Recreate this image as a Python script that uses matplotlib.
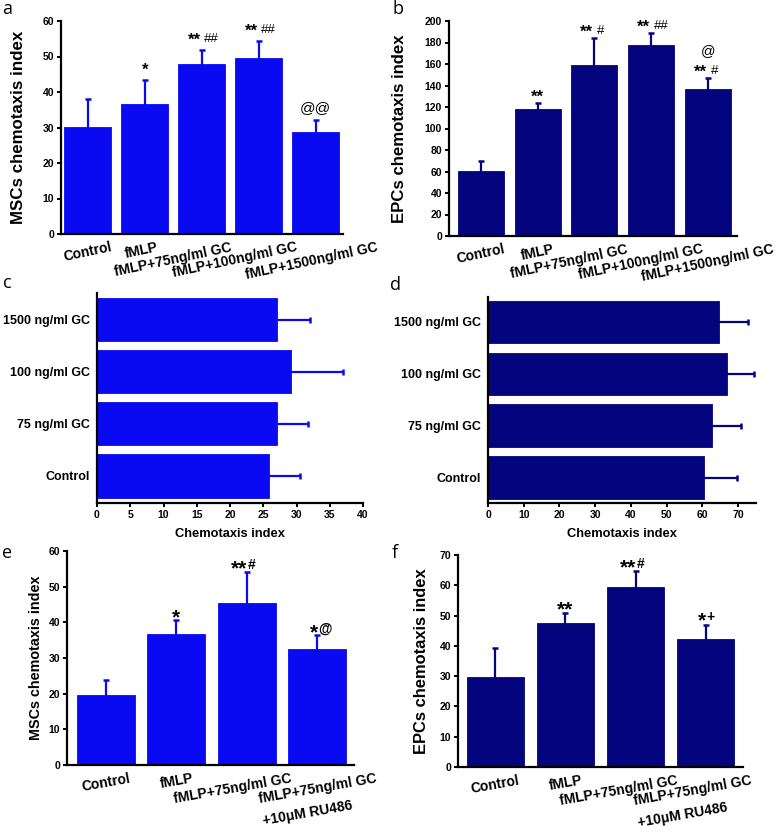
import matplotlib
matplotlib.use("Agg")
import matplotlib.pyplot as plt

plt.rcParams['font.family'] = ['Liberation Sans', 'DejaVu Sans']
plt.rcParams['font.weight'] = 'bold'

BLUE = '#0a0af2'
NAVY = '#04047e'

# ---- data ----
cats_ab = ['Control', 'fMLP', 'fMLP+75ng/ml GC', 'fMLP+100ng/ml GC', 'fMLP+1500ng/ml GC']
a_vals = [30.1, 36.7, 47.8, 49.6, 28.8]
a_err = [7.9, 6.7, 4.1, 4.9, 3.4]
a_marks = ['', '*', '**##', '**##', '@@']

b_vals = [60.7, 118.6, 158.8, 177.7, 136.5]
b_err = [9.3, 5.2, 25.4, 11.2, 10.2]
b_marks = ['', '**', '**#', '**##', '@\n**#']

cats_cd = ['Control', '75 ng/ml GC', '100 ng/ml GC', '1500 ng/ml GC']
c_vals = [25.9, 27.1, 29.1, 27.1]
c_err = [4.7, 4.6, 7.9, 4.9]
d_vals = [60.5, 62.6, 66.8, 64.6]
d_err = [9.2, 8.2, 7.6, 8.2]

cats_ef = ['Control', 'fMLP', 'fMLP+75ng/ml GC', 'fMLP+75ng/ml GC\n+10\u03bcM RU486']
e_vals = [19.5, 36.7, 45.4, 32.5]
e_err = [4.3, 3.9, 8.8, 3.9]
e_marks = ['', '*', '**#', '*@']
f_vals = [29.7, 47.6, 59.5, 42.2]
f_err = [9.5, 3.1, 5.1, 4.8]
f_marks = ['', '**', '**#', '*+']

W, H = 778, 836
fig = plt.figure(figsize=(W / 100, H / 100), dpi=100)


def add_ax(l, t, r, b):
    return fig.add_axes([l / W, 1 - b / H, (r - l) / W, (b - t) / H])


def style(ax):
    for s in ['top', 'right']:
        ax.spines[s].set_visible(False)
    for s in ['left', 'bottom']:
        ax.spines[s].set_linewidth(1.6)
    ax.tick_params(direction='out', length=3, width=1.4, labelsize=7.5, pad=2)


def draw_mark(ax, x, ytop, mark, star_size, sym_size, star_off, sym_weight, gap):
    off = 0.0
    sym_rel = 0.73 * star_size - 0.7 * sym_size
    for line in mark.split('\n')[::-1]:
        n = len(line) - len(line.lstrip('*'))
        stars, sym = line[:n], line[n:].strip()
        kw = dict(xy=(x, ytop), textcoords='offset points', va='baseline')
        if stars and sym:
            ax.annotate(stars, xytext=(-gap / 2 + 0.5, off + star_off), ha='right',
                        fontsize=star_size, fontweight='bold', **kw)
            ax.annotate(sym, xytext=(gap / 2 + 0.5, off + star_off + sym_rel), ha='left',
                        fontsize=sym_size, fontweight=sym_weight, **kw)
        elif stars:
            ax.annotate(stars, xytext=(0, off + star_off), ha='center',
                        fontsize=star_size, fontweight='bold', **kw)
        else:
            size = sym_size + (1.5 if len(sym) > 1 else 0.8)
            ax.annotate(sym, xytext=(0, off + 5.5), ha='center', fontsize=size,
                        fontweight=sym_weight, **kw)
        off += 11


def vbar(ax, cats, vals, errs, color, ylim, yticks, ylabel, ylsize, ylpad, marks, star_size,
         sym_size, star_off, sym_weight, gap, xlim, width, rot, shifts):
    x = list(range(len(cats)))
    ax.errorbar(x, vals, yerr=errs, fmt='none', ecolor=color,
                elinewidth=1.6, capsize=2.2, capthick=1.8, zorder=1)
    ax.bar(x, vals, width=width, color=color, edgecolor=color, linewidth=0.6, zorder=2)
    ax.set_ylim(*ylim)
    ax.set_xlim(*xlim)
    ax.set_yticks(yticks)
    ax.set_xticks(x)
    ax.tick_params(axis='x', length=0, labelbottom=False)
    for i, (lab, dx) in enumerate(zip(cats, shifts)):
        ax.annotate(lab, xy=(i, 0), xycoords=('data', 'axes fraction'),
                    xytext=(dx * 0.72, -4.5), textcoords='offset points',
                    rotation=rot, ha='center', va='top', fontsize=10, fontweight='bold',
                    linespacing=1.8, multialignment='left', annotation_clip=False)
    ax.set_ylabel(ylabel, fontsize=ylsize, fontweight='bold', labelpad=ylpad)
    for i, m in enumerate(marks):
        if m:
            draw_mark(ax, i, vals[i] + errs[i], m, star_size, sym_size, star_off, sym_weight, gap)


def hbar(ax, cats, vals, errs, color, xlim, xticks, ylim, height):
    y = list(range(len(cats)))
    ax.errorbar(vals, y, xerr=errs, fmt='none', ecolor=color,
                elinewidth=1.6, capsize=2.0, capthick=1.8, zorder=1)
    ax.barh(y, vals, height=height, color=color, edgecolor=color, linewidth=0.6, zorder=2)
    ax.set_xlim(*xlim)
    ax.set_ylim(*ylim)
    ax.set_xticks(xticks)
    ax.set_yticks(y)
    ax.set_yticklabels(cats, fontsize=9, fontweight='bold')
    ax.tick_params(axis='y', length=0, pad=5)
    ax.set_xlabel('Chemotaxis index', fontsize=9.3, fontweight='bold', labelpad=6)


# panel a
ax = add_ax(61, 21, 343, 234)
style(ax)
vbar(ax, cats_ab, a_vals, a_err, BLUE, (0, 60), range(0, 61, 10), 'MSCs chemotaxis index', 12.2, 12,
     a_marks, 12, 9.5, 3.6, 'normal', 2.5, (-0.47, 4.48), 0.82, 12, [0, -3, -29, -24, -4])

# panel b
ax = add_ax(449, 21, 737, 236)
style(ax)
vbar(ax, cats_ab, b_vals, b_err, NAVY, (0, 200), range(0, 201, 20), 'EPCs chemotaxis index', 12.1, 13,
     b_marks, 12, 9.5, 1.0, 'normal', 2.5, (-0.56, 4.51), 0.81, 12, [0, 0, -25, -10, 0])

# panel c
ax = add_ax(97, 293, 363, 503)
style(ax)
hbar(ax, cats_cd, c_vals, c_err, BLUE, (0, 40), range(0, 41, 5), (-0.52, 3.51), 0.83)

# panel d
ax = add_ax(488, 297, 756, 503)
style(ax)
hbar(ax, cats_cd, d_vals, d_err, NAVY, (0, 75), range(0, 71, 10), (-0.49, 3.48), 0.82)

# panel e
ax = add_ax(67, 551, 354, 765)
style(ax)
vbar(ax, cats_ef, e_vals, e_err, BLUE, (0, 60), range(0, 61, 10), 'MSCs chemotaxis index', 10.4, 4,
     e_marks, 15, 10, -2.0, 'bold', 0, (-0.55, 3.52), 0.82, 10, [0, 0, -14, 2])

# panel f
ax = add_ax(458, 555, 743, 767)
style(ax)
vbar(ax, cats_ef, f_vals, f_err, NAVY, (0, 70), range(0, 71, 10), 'EPCs chemotaxis index', 11.9, 7.5,
     f_marks, 15, 10, -1.5, 'bold', 0, (-0.53, 3.53), 0.81, 10, [0, 0, -17, -11])

# panel letters
for letter, px, py in [('a', 2, 14), ('b', 392, 14), ('c', 3, 288), ('d', 390, 290),
                       ('e', 2, 558), ('f', 392, 558)]:
    fig.text(px / W, 1 - py / H, letter, fontsize=13, fontweight='normal',
             family=['Open Sans', 'DejaVu Sans'], ha='left', va='baseline')

fig.savefig('out.png', dpi=100)
